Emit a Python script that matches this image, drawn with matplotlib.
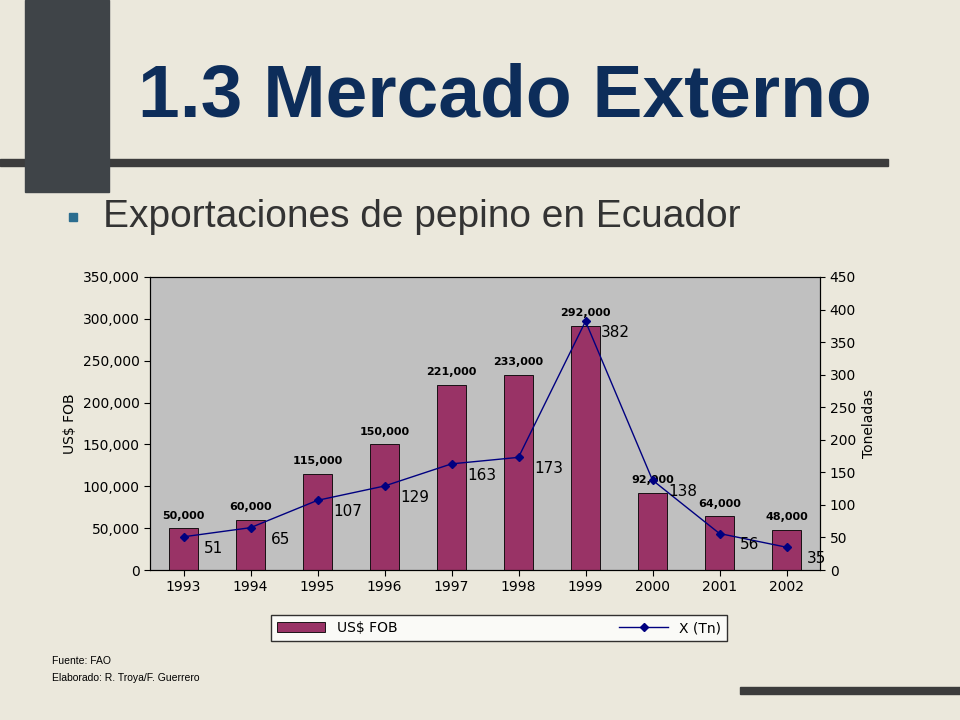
import matplotlib
matplotlib.use("Agg")
import matplotlib.pyplot as plt
from matplotlib.patches import Rectangle

years = ["1993", "1994", "1995", "1996", "1997", "1998", "1999", "2000", "2001", "2002"]
fob = [50000, 60000, 115000, 150000, 221000, 233000, 292000, 92000, 64000, 48000]
tons = [51, 65, 107, 129, 163, 173, 382, 138, 56, 35]

W, H = 960, 720
fig = plt.figure(figsize=(W / 100, H / 100), dpi=100)
fig.patch.set_facecolor("#ebe8dc")

# decoracion de la diapositiva
bg = fig.add_axes([0, 0, 1, 1])
bg.set_xlim(0, W)
bg.set_ylim(H, 0)
bg.axis("off")
bg.add_patch(Rectangle((0, 159), 888, 7, color="#3c3c3c"))
bg.add_patch(Rectangle((25, 0), 84, 192, color="#3f4448"))
bg.add_patch(Rectangle((740, 687), 220, 7, color="#3c3c3c"))
bg.text(505, 97, "1.3 Mercado Externo", ha="center", va="center",
        fontsize=54, fontweight="bold", color="#0d2d5a", family="Liberation Sans")
bg.add_patch(Rectangle((69, 213), 8, 8, color="#2b6d8f"))
bg.text(103, 217, "Exportaciones de pepino en Ecuador", va="center",
        fontsize=28, color="#333333", family="Liberation Sans")
bg.text(52, 661, "Fuente: FAO", fontsize=7.5, va="center", family="Liberation Sans")
bg.text(52, 678, "Elaborado: R. Troya/F. Guerrero", fontsize=7.5, va="center",
        family="Liberation Sans")

# grafico
ax = fig.add_axes([150 / W, 1 - 570 / H, 670 / W, 293 / H])
ax.set_facecolor("#c0c0c0")
x = range(len(years))
ax.bar(x, fob, width=0.42, color="#993366", edgecolor="black", lw=0.6,
       label="US$ FOB", zorder=2)
ax.set_ylim(0, 350000)
ax.set_xlim(-0.5, len(years) - 0.5)
ax.set_yticks(range(0, 350001, 50000))
ax.set_yticklabels([f"{v:,}" for v in range(0, 350001, 50000)], fontsize=10)
ax.set_xticks(list(x))
ax.set_xticklabels(years, fontsize=10)
ax.set_ylabel("US$ FOB", fontsize=10)
ax.tick_params(direction="out", length=4)
for i, v in enumerate(fob):
    ax.text(i, v + 9000, f"{v:,}", ha="center", va="bottom", fontsize=8,
            fontweight="bold")

ax2 = ax.twinx()
ax2.plot(list(x), tons, color="#000080", lw=1, marker="D", ms=4,
         label="X (Tn)", zorder=3)
ax2.set_ylim(0, 450)
ax2.set_yticks(range(0, 451, 50))
ax2.tick_params(labelsize=10)
ax2.set_ylabel("Toneladas", fontsize=10)
for i, v in enumerate(tons):
    ax2.text(i + 0.45, v - 6, str(v), ha="center", va="top", fontsize=11)

h1, l1 = ax.get_legend_handles_labels()
h2, l2 = ax2.get_legend_handles_labels()
fig.legend(h1 + h2, l1 + l2, loc="center", ncol=2,
           bbox_to_anchor=(499 / W, 1 - 628 / H), frameon=True, fancybox=False,
           edgecolor="black", fontsize=10, columnspacing=16, handlelength=3.5)

fig.savefig("out.png", dpi=100, facecolor=fig.get_facecolor())
